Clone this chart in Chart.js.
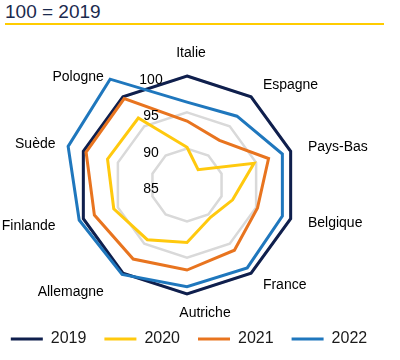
<!DOCTYPE html>
<html><head><meta charset="utf-8">
<script src="https://cdn.jsdelivr.net/npm/chart.js@4/dist/chart.umd.min.js"></script>
<style>
html,body{margin:0;padding:0;background:#fff;}
#wrap{position:relative;width:400px;height:360px;overflow:hidden;}
#title{position:absolute;left:5px;top:0;width:379px;height:23px;border-bottom:2.5px solid #FFCC00;font-family:"Liberation Sans",Arial,sans-serif;font-size:19px;line-height:23px;color:#1b2a4e;white-space:nowrap;}
canvas{position:absolute;left:0;top:0;}
</style></head><body>
<div id="wrap"><div id="title">100 = 2019</div><canvas id="c" width="400" height="360" style="width:400px;height:360px"></canvas></div>
<script>
const categories = ['Italie','Espagne','Pays-Bas','Belgique','France','Autriche','Allemagne','Finlande','Suède','Pologne'];
const years = ['2019','2020','2021','2022'];
const v2019 = [100, 100, 100, 100, 100, 100, 100, 100, 100, 100];
const v2020 = [90.2, 87.6, 94.7, 91.6, 90.5, 92.9, 94.3, 95.6, 96.5, 96.4];
const v2021 = [93.8, 92.6, 96.8, 95.2, 96.1, 96.7, 97.6, 98.4, 99.6, 99.7];
const v2022 = [96.4, 96.7, 98.8, 98.8, 99.1, 99.0, 100.2, 100.6, 102.2, 103.0];
const tickValues = [85, 90, 95, 100];
const colors = ['#0f1f4d', '#ffc90e', '#e8741f', '#1f77bd'];
const series = [v2019, v2020, v2021, v2022];

const FONT = '"Liberation Sans", Arial, sans-serif';
Chart.defaults.font.family = FONT;

// label placement style per side: pad from outer ring, horizontal shift
const labelStyle = {
  top:    { pad: 19, dx: 4,  align: 'center', base: 'alphabetic' },
  bottom: { pad: 12, dx: 18, align: 'center', base: 'top' },
  right:  { pad: 15, dx: 3,  align: 'left',   base: 'middle' },
  left:   { pad: 24, dx: -5, align: 'right',  base: 'middle' }
};

const labelPlugin = {
  id: 'customLabels',
  afterDatasetsDraw(chart) {
    const s = chart.scales.r;
    const ctx = chart.ctx;
    ctx.save();
    ctx.fillStyle = '#000';
    ctx.font = '14px ' + FONT;
    ctx.textAlign = 'center';
    ctx.textBaseline = 'middle';
    tickValues.forEach(v => {
      const d = s.getDistanceFromCenterForValue(v);
      ctx.fillText(String(v), s.xCenter - 36, s.yCenter - d + 4);
    });
    categories.forEach((lab, i) => {
      const ang = i * 360 / categories.length;
      const st = ang === 0 ? labelStyle.top : ang === 180 ? labelStyle.bottom : ang < 180 ? labelStyle.right : labelStyle.left;
      const p = s.getPointPosition(i, s.drawingArea + st.pad);
      ctx.textAlign = st.align;
      ctx.textBaseline = st.base;
      ctx.fillText(lab, p.x + st.dx, p.y);
    });
    ctx.restore();
  }
};

new Chart(document.getElementById('c'), {
  type: 'radar',
  data: {
    labels: categories,
    datasets: series.map((d, i) => ({
      label: years[i],
      data: d,
      borderColor: colors[i],
      backgroundColor: colors[i],
      borderWidth: 3,
      pointRadius: 0,
      pointHoverRadius: 0,
      fill: false,
      clip: false,
      order: 4 - i
    }))
  },
  options: {
    responsive: false,
    animation: false,
    layout: { padding: { left: -8, right: 14, top: 76, bottom: 3 } },
    elements: { line: { tension: 0, borderJoinStyle: 'miter' } },
    scales: {
      r: {
        min: 85, max: 100,
        ticks: { display: false, stepSize: 5 },
        grid: { color: '#d9d9d9', lineWidth: 2.5 },
        angleLines: { display: false },
        pointLabels: { display: false }
      }
    },
    plugins: {
      title: { display: true, position: 'right', text: '', padding: 0, font: { size: 12, lineHeight: 1 } },
      legend: {
        position: 'bottom',
        labels: {
          usePointStyle: true,
          pointStyle: 'line',
          pointStyleWidth: 32,
          font: { size: 16, family: FONT },
          color: '#1a1a1a',
          padding: 18,
          sort: (a, b) => a.datasetIndex - b.datasetIndex
        },
        title: { display: true, text: '', padding: { top: 7, bottom: 0 }, font: { size: 12, lineHeight: 1 } }
      },
      tooltip: { enabled: false }
    }
  },
  plugins: [labelPlugin]
});
</script>
</body></html>
